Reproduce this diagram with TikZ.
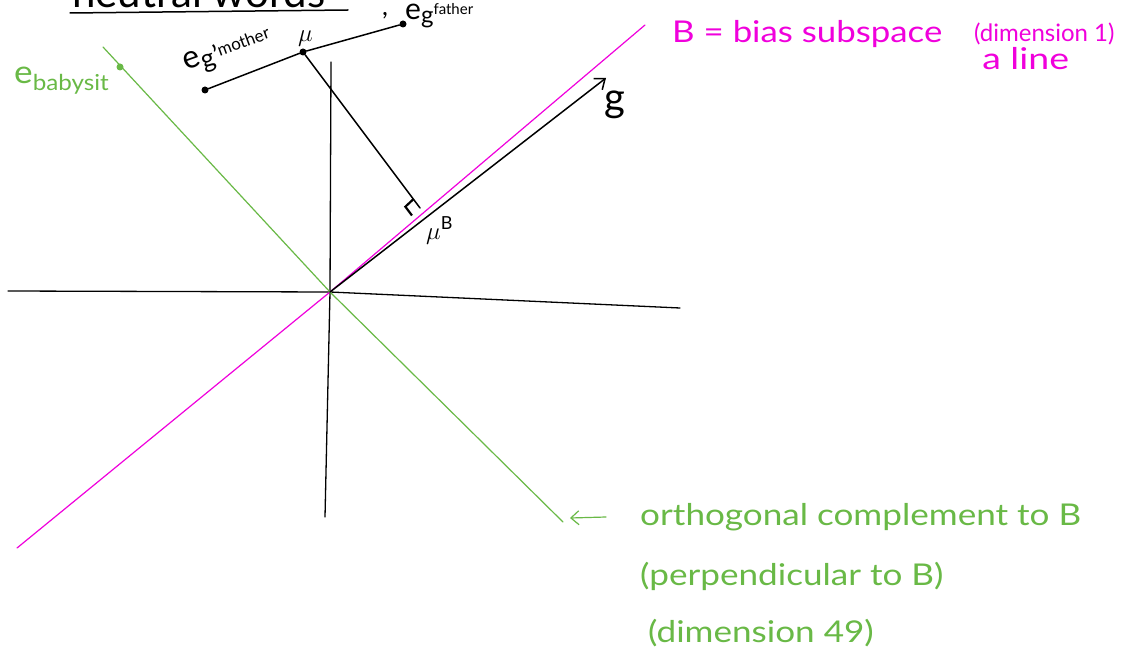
\documentclass[tikz,border=0pt]{standalone}
\usepackage{fontspec}
\setmainfont{Lato}
\usetikzlibrary{calc,arrows.meta}
\definecolor{mag}{RGB}{240,0,220}
\definecolor{grn}{RGB}{105,185,70}
\tikzset{
  axis/.style={black,line width=1.3pt,line cap=round,line join=round},
  bline/.style={mag,line width=1.2pt,line cap=round,line join=round},
  oline/.style={grn,line width=1.2pt,line cap=round,line join=round},
  blk/.style={black,line width=1.5pt,line cap=round,line join=round},
  dot/.style={circle,fill=#1,inner sep=0pt,minimum size=7pt},
  magtext/.style={text=mag,inner sep=0pt,anchor=base west},
  grntext/.style={text=grn,inner sep=0pt,font=\fontsize{30}{34}\selectfont,anchor=base west,xscale=1.17},
  lbl/.style={inner sep=0pt,font=\fontsize{26}{30}\selectfont}
}
\begin{document}
\begin{tikzpicture}[x=1pt,y=-1pt]
\useasboundingbox (0,0) rectangle (1127,663);
\clip (0,0) rectangle (1127,663);
\fill[white] (0,0) rectangle (1127,663);
% coordinates
\coordinate (O) at (330,292);
\coordinate (xl) at (8,291);
\coordinate (xr) at (680,308);
\coordinate (yt) at (331,62);
\coordinate (yb) at (325,517);
\coordinate (bl) at (17,548);
\coordinate (bt) at (645,25);
\coordinate (gt) at (103,47);
\coordinate (gb) at (563,522);
\coordinate (G) at (606,78);
\coordinate (F) at (420,208);
% axes
\draw[axis] (xl) -- (O) -- (xr);
\draw[axis] (yt) -- (O) -- (yb);
% bias subspace
\draw[bline] (bl) -- (O) -- (bt);
% orthogonal complement
\draw[oline] (gt) -- (O) -- (gb);
\node[dot=grn] (eb) at (120,67) {};
\node[text=grn,inner sep=0pt,font=\fontsize{32}{36}\selectfont,anchor=base west,xscale=1.1] (ebl) at (14,84)
  {e\raisebox{-7pt}{\fontsize{22}{24}\selectfont babysit}};
% vector g
\draw[blk,-{Straight Barb[length=9pt,width=14pt]}] (O) -- (G);
\node[lbl,anchor=base west] (gl) at (604,112) {\fontsize{40}{44}\selectfont g};
% gender words
\node[dot=black] (em) at (205,90) {};
\node[dot=black] (mu) at (303,52) {};
\node[dot=black] (ef) at (403,24) {};
\draw[blk] (em) -- (mu) -- (ef);
\node[lbl,rotate=20,anchor=south west,font=\fontsize{32}{36}\selectfont] (eml) at (190,80)
  {e\raisebox{-5pt}{\fontsize{26}{28}\selectfont g'\fontsize{17}{19}\selectfont\raisebox{7pt}{mother}}};
\node[lbl,anchor=base west] (mul) at (298,42) {$\mu$};
\node[lbl,anchor=base west,font=\fontsize{30}{34}\selectfont] (efl) at (405,20)
  {e\raisebox{-4pt}{\fontsize{24}{26}\selectfont g\fontsize{15}{17}\selectfont\raisebox{9pt}{father}}};
\node[lbl,anchor=base west] (comma) at (382,16) {,};
% title (cut off at top, as in the original)
\node[lbl,anchor=base west,font=\fontsize{42}{46}\selectfont] (title) at (72,8) {neutral words};
\draw[blk] (70,13) -- (348,10);
% projection
\draw[blk] (mu) -- (F);
\draw[black,line width=2.2pt] ($(F)!11pt!(O)$) -- ($(F)!11pt!(O) + (-6.6,-8.8)$) -- ($(F) + (-6.6,-8.8)$);
\node[lbl,anchor=base west] (mub) at (426,240) {$\mu$\raisebox{10pt}{\fontsize{18}{20}\selectfont B}};
% magenta labels
\node[magtext,font=\fontsize{30}{34}\selectfont,xscale=1.16] (bt1) at (672,43) {B = bias subspace};
\node[magtext,font=\fontsize{24}{28}\selectfont] (bt2) at (974,42) {(dimension 1)};
\node[magtext,font=\fontsize{30}{34}\selectfont,xscale=1.25] (bt3) at (982,70) {a line};
% green labels
\coordinate (arS) at (606,517);
\coordinate (arE) at (570,518);
\draw[oline,-{Straight Barb[length=8pt,width=14pt]}] (arS) -- (arE);
\node[grntext] (t1) at (640,525) {orthogonal complement to B};
\node[grntext] (t2) at (640,585) {(perpendicular to B)};
\node[grntext] (t3) at (648,642) {(dimension 49)};
\end{tikzpicture}
\end{document}
